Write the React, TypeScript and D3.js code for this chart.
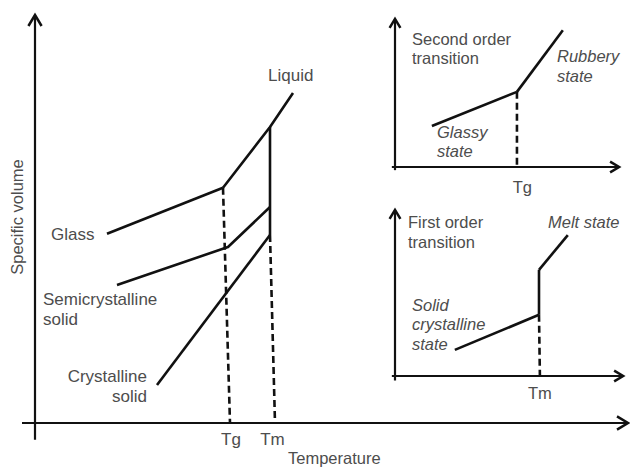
import React from "react";
import * as d3 from "d3";

// main diagram: [temperature, specific volume] in arbitrary units
const glassLine: [number, number][] = [[14.4, 47.3], [37.6, 58.8]];
const liquidLine: [number, number][] = [[37.6, 58.8], [47, 74], [51.6, 82.5]];
const semiLine: [number, number][] = [[16.4, 34.5], [38.6, 44], [47, 54]];
const crystLine: [number, number][] = [[24.4, 9.5], [47, 47]];
const meltDrop: [number, number][] = [[47, 74], [47, 47]];
const tgDash: [number, number][] = [[37.6, 58.8], [39, 0]];
const tmDash: [number, number][] = [[47, 47], [48, 0]];
const mainTicks = [{ label: "Tg", t: 39.2 }, { label: "Tm", t: 47.5 }];

// second order inset
const glassyLine: [number, number][] = [[8.2, 9.1], [27.1, 16.7]];
const rubberyLine: [number, number][] = [[27.1, 16.7], [37.3, 30.4]];
const tg2Dash: [number, number][] = [[27.1, 16.7], [27.1, 0]];

// first order inset
const solidLine: [number, number][] = [[13.3, 5.8], [32, 13.6]];
const jumpLine: [number, number][] = [[32, 13.6], [32, 23.6]];
const meltLine: [number, number][] = [[32, 23.6], [38.4, 31.3]];
const tm2Dash: [number, number][] = [[32, 13.6], [32.2, 0]];

const ink = "#111";
const grey = "#4d4d4d";
const font = "'Liberation Sans', Arial, Helvetica, sans-serif";

function Axes({ x, y, x0, x1, y0, y1, head }: any) {
  const ox = x(0), oy = y(0);
  const tx = x(x1), ty = y(y1);
  return (
    <g stroke={ink} strokeWidth={2.2} fill="none">
      <line x1={x(x0)} y1={oy} x2={tx} y2={oy} />
      <line x1={ox} y1={y(y0)} x2={ox} y2={ty} />
      <polyline points={`${tx - head},${oy - head * 0.6} ${tx},${oy} ${tx - head},${oy + head * 0.6}`} strokeWidth={2.5} />
      <polyline points={`${ox - head * 0.6},${ty + head} ${ox},${ty} ${ox + head * 0.6},${ty + head}`} strokeWidth={2.5} />
    </g>
  );
}

export default function App() {
  const xMain = d3.scaleLinear().domain([0, 120]).range([35, 635]);
  const yMain = d3.scaleLinear().domain([0, 100]).range([423, 23]);
  const xIn = d3.scaleLinear().domain([0, 50]).range([395, 620]);
  const yIn1 = d3.scaleLinear().domain([0, 30]).range([167, 32]);
  const yIn2 = d3.scaleLinear().domain([0, 30]).range([376, 241]);

  const lm = d3.line<[number, number]>().x(d => xMain(d[0])).y(d => yMain(d[1]));
  const l1 = d3.line<[number, number]>().x(d => xIn(d[0])).y(d => yIn1(d[1]));
  const l2 = d3.line<[number, number]>().x(d => xIn(d[0])).y(d => yIn2(d[1]));

  const solid = { stroke: ink, strokeWidth: 2.6, fill: "none", strokeLinejoin: "round" as const };
  const dashed = { ...solid, strokeDasharray: "7,4" };

  const txt = (x: number, y: number, s: string, opts: any = {}) => (
    <text x={x} y={y} fill={grey} fontSize={opts.size || 17} fontStyle={opts.italic ? "italic" : "normal"}
      textAnchor={opts.anchor || "start"}>{s}</text>
  );

  return (
    <svg width={630} height={467} style={{ position: "absolute", left: 0, top: 0, background: "#fff" }} fontFamily={font}>
      {/* main plot */}
      <Axes x={xMain} y={yMain} x0={-2.6} x1={118.6} y0={-4.2} y1={102} head={11} />
      <path d={lm(glassLine)!} {...solid} />
      <path d={lm(liquidLine)!} {...solid} />
      <path d={lm(semiLine)!} {...solid} />
      <path d={lm(crystLine)!} {...solid} />
      <path d={lm(meltDrop)!} {...solid} />
      <path d={lm(tgDash)!} {...dashed} />
      <path d={lm(tmDash)!} {...dashed} />
      {mainTicks.map(t => (
        <text key={t.label} x={xMain(t.t)} y={445} fill={grey} fontSize={17} textAnchor="middle">{t.label}</text>
      ))}
      {txt(268, 81, "Liquid")}
      {txt(51, 240, "Glass")}
      {txt(43, 305, "Semicrystalline")}
      {txt(43, 325, "solid")}
      {txt(147, 382, "Crystalline", { anchor: "end" })}
      {txt(147, 402, "solid", { anchor: "end" })}
      {txt(288, 464, "Temperature", { size: 16.5 })}
      <text transform="translate(23,217) rotate(-90)" fill={grey} fontSize={16.5} textAnchor="middle">Specific volume</text>

      {/* second order inset */}
      <Axes x={xIn} y={yIn1} x0={-0.7} x1={49.8} y0={-0.7} y1={32.9} head={9} />
      <path d={l1(glassyLine)!} {...solid} />
      <path d={l1(rubberyLine)!} {...solid} />
      <path d={l1(tg2Dash)!} {...dashed} />
      <text x={xIn(28.3)} y={193} fill={grey} fontSize={16.5} textAnchor="middle">Tg</text>
      {txt(412, 45, "Second order", { size: 16.5 })}
      {txt(412, 64, "transition", { size: 16.5 })}
      {txt(557, 62, "Rubbery", { size: 16.5, italic: true })}
      {txt(557, 82, "state", { size: 16.5, italic: true })}
      {txt(437, 138, "Glassy", { size: 16.5, italic: true })}
      {txt(437, 157, "state", { size: 16.5, italic: true })}

      {/* first order inset */}
      <Axes x={xIn} y={yIn2} x0={-0.7} x1={50.7} y0={-1} y1={36.9} head={9} />
      <path d={l2(solidLine)!} {...solid} />
      <path d={l2(jumpLine)!} {...solid} />
      <path d={l2(meltLine)!} {...solid} />
      <path d={l2(tm2Dash)!} {...dashed} />
      <text x={xIn(32.2)} y={399} fill={grey} fontSize={16.5} textAnchor="middle">Tm</text>
      {txt(408, 228, "First order", { size: 16.5 })}
      {txt(408, 248, "transition", { size: 16.5 })}
      {txt(548, 228, "Melt state", { size: 16.5, italic: true })}
      {txt(412, 311, "Solid", { size: 16.5, italic: true })}
      {txt(412, 330, "crystalline", { size: 16.5, italic: true })}
      {txt(412, 350, "state", { size: 16.5, italic: true })}
    </svg>
  );
}
